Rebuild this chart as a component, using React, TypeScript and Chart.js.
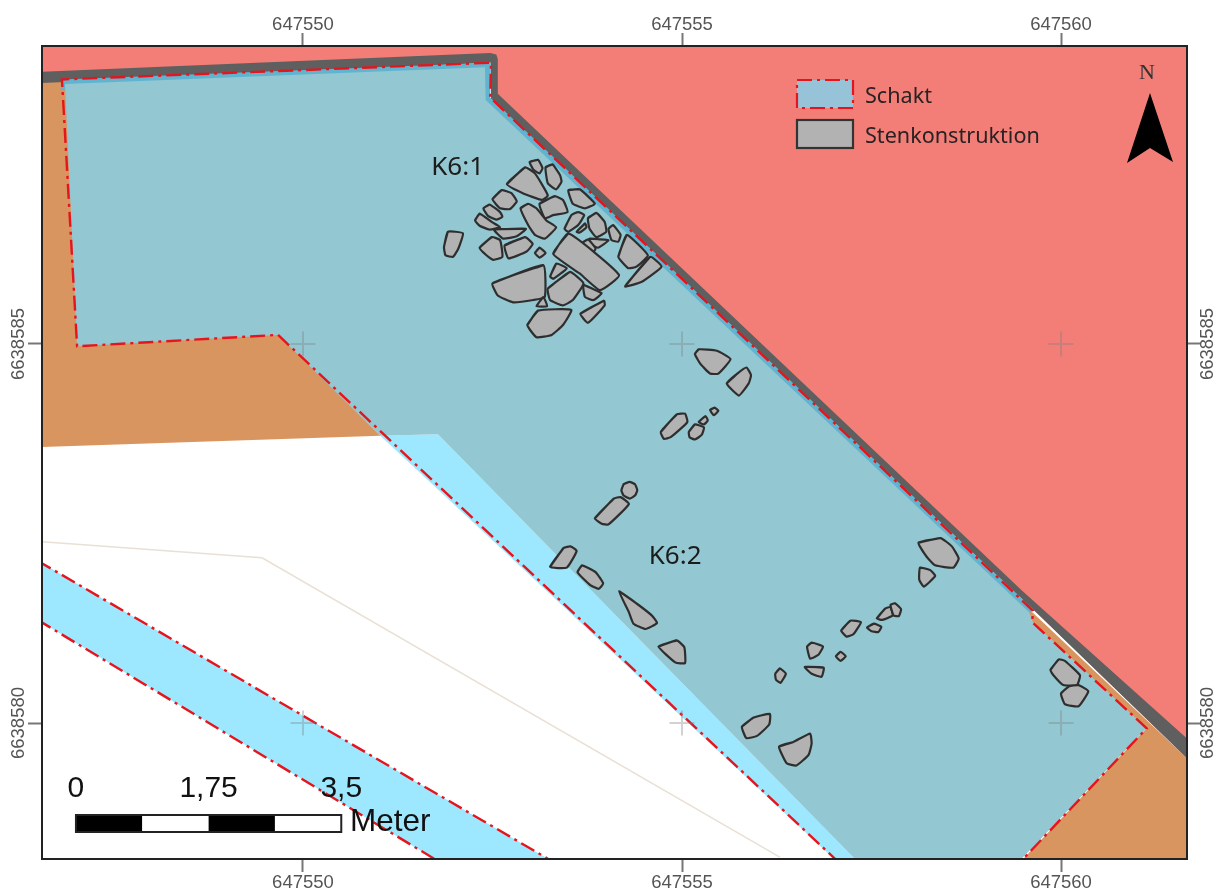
import React, { useEffect, useRef } from "react";
import { Chart, registerables } from "chart.js";

Chart.register(...registerables);

type P = [number, number];

// Map origin: every vertex below is metres east / north of it (SWEREF-style grid).
const EAST0 = 647550;
const NORTH0 = 6638580;
const xMin = EAST0 - 3.443;
const xMax = EAST0 + 11.662;
const yMin = NORTH0 - 1.794;
const yMax = NORTH0 + 8.931;

const graticuleEast = [647550, 647555, 647560];
const graticuleNorth = [6638580, 6638585];

const redZone: P[] = [[-3.5, 9], [11.7, 9], [11.7, -0.5], [9.59, 1.54], [2.53, 8.26], [2.51, 8.77], [-3.5, 8.51]];
const brownWest: P[] = [[-3.5, 8.5], [-0.3, 8.5], [-0.3, 5.12], [1.02, 3.79], [-3.5, 3.64]];
const brownEast: P[] = [[9.59, 1.49], [11.7, -0.5], [11.7, -1.9], [9.4, -1.9], [11.13, -0.07], [9.5, 1.3]];
const blueEdge: P[] = [[1.02, 3.79], [1.78, 3.81], [7.39, -1.9], [7.12, -1.9]];
const blueStrip: P[] = [[-3.5, 2.14], [3.23, -1.79], [1.73, -1.79], [-3.5, 1.36]];
const wall: P[] = [[-3.5, 8.59], [2.47, 8.84], [2.55, 8.82], [2.57, 8.76], [2.57, 8.3], [9.48, 1.75], [11.7, -0.24], [11.7, -0.5], [9.63, 1.5], [2.47, 8.22], [2.48, 8.71], [-3.5, 8.44]];
const shaftSliver: P[] = [[-3.18, 8.49], [2.48, 8.71], [2.47, 8.25], [9.63, 1.5], [9.56, 1.41], [2.33, 8.15], [-3.2, 8.35]];
const shaftFill: P[] = [[-3.14, 8.43], [2.4, 8.65], [2.41, 8.22], [9.58, 1.46], [9.63, 1.33], [11.13, -0.07], [9.48, -1.79], [7.28, -1.79], [1.78, 3.81], [1.02, 3.79], [-0.33, 5.12], [-2.98, 4.97]];
const shaftOutline: P[] = [[7.08, -1.85], [-0.33, 5.12], [-2.98, 4.97], [-3.18, 8.49], [2.48, 8.71], [2.47, 8.25], [9.63, 1.48], [9.62, 1.33], [11.13, -0.07], [9.4, -1.9]];
const stripEdgeUpper: P[] = [[-3.5, 2.14], [3.23, -1.79]];
const stripEdgeLower: P[] = [[-3.5, 1.36], [1.73, -1.79]];
const beigeLine: P[] = [[-3.44, 2.39], [-0.54, 2.18], [6.29, -1.77]];

const stonesK61: P[][] = [
  [[2.99, 7.4], [3.1, 7.43], [3.16, 7.32], [3.12, 7.25], [3.04, 7.3]],
  [[3.2, 7.33], [3.29, 7.37], [3.39, 7.23], [3.41, 7.14], [3.34, 7.04], [3.23, 7.12]],
  [[2.69, 7.11], [2.93, 7.33], [3.06, 7.25], [3.23, 6.96], [3.15, 6.9], [2.9, 6.99]],
  [[2.5, 6.91], [2.62, 7.03], [2.75, 6.99], [2.82, 6.88], [2.73, 6.78], [2.6, 6.79]],
  [[2.38, 6.79], [2.46, 6.84], [2.6, 6.74], [2.63, 6.68], [2.55, 6.64], [2.44, 6.69]],
  [[2.27, 6.63], [2.33, 6.72], [2.49, 6.61], [2.6, 6.54], [2.46, 6.51], [2.33, 6.56]],
  [[3.12, 6.85], [3.32, 6.95], [3.43, 6.9], [3.49, 6.74], [3.3, 6.7], [3.19, 6.66]],
  [[2.87, 6.79], [2.97, 6.85], [3.08, 6.79], [3.21, 6.63], [3.34, 6.54], [3.19, 6.39], [3.06, 6.44], [2.97, 6.57]],
  [[3.5, 7.03], [3.65, 7.04], [3.85, 6.85], [3.72, 6.79], [3.56, 6.85]],
  [[3.45, 6.52], [3.54, 6.7], [3.63, 6.74], [3.71, 6.7], [3.63, 6.57], [3.5, 6.48]],
  [[3.76, 6.66], [3.87, 6.73], [3.98, 6.61], [4.0, 6.48], [3.87, 6.41], [3.78, 6.52]],
  [[3.61, 6.48], [3.72, 6.59], [3.74, 6.54], [3.65, 6.47]],
  [[4.03, 6.52], [4.09, 6.57], [4.19, 6.44], [4.16, 6.35], [4.07, 6.37]],
  [[3.78, 6.39], [4.03, 6.37], [3.89, 6.27], [3.78, 6.33]],
  [[3.68, 6.33], [3.76, 6.38], [3.86, 6.26], [3.81, 6.19], [3.72, 6.25]],
  [[2.52, 6.51], [2.94, 6.52], [2.82, 6.42], [2.64, 6.39]],
  [[1.86, 6.28], [1.91, 6.48], [2.11, 6.46], [2.05, 6.26], [1.98, 6.15], [1.88, 6.17]],
  [[2.33, 6.27], [2.49, 6.41], [2.6, 6.37], [2.63, 6.15], [2.51, 6.11], [2.42, 6.17]],
  [[2.66, 6.3], [2.93, 6.41], [3.03, 6.32], [2.95, 6.22], [2.71, 6.13]],
  [[3.06, 6.2], [3.12, 6.27], [3.2, 6.2], [3.12, 6.14]],
  [[3.3, 6.19], [3.5, 6.46], [4.17, 5.91], [3.92, 5.71], [3.65, 5.93]],
  [[4.16, 6.15], [4.27, 6.44], [4.55, 6.17], [4.4, 6.02], [4.29, 6.0]],
  [[4.25, 5.76], [4.58, 6.15], [4.73, 6.02], [4.47, 5.82]],
  [[2.5, 5.8], [3.17, 6.04], [3.19, 5.62], [3.04, 5.58], [2.77, 5.55], [2.57, 5.64]],
  [[3.26, 5.89], [3.34, 6.06], [3.48, 6.0], [3.3, 5.86]],
  [[3.23, 5.73], [3.52, 5.95], [3.7, 5.8], [3.56, 5.58], [3.43, 5.51], [3.26, 5.58]],
  [[3.7, 5.78], [3.94, 5.67], [3.83, 5.58], [3.72, 5.62]],
  [[3.08, 5.5], [3.17, 5.62], [3.22, 5.5]],
  [[2.96, 5.25], [3.1, 5.44], [3.54, 5.45], [3.43, 5.25], [3.28, 5.12], [3.08, 5.09]],
  [[3.66, 5.4], [3.97, 5.57], [3.98, 5.51], [3.76, 5.28]],
];

const stonesK62: P[][] = [
  [[5.17, 4.87], [5.22, 4.93], [5.46, 4.91], [5.64, 4.8], [5.48, 4.61], [5.37, 4.61], [5.24, 4.74]],
  [[5.59, 4.48], [5.73, 4.61], [5.85, 4.69], [5.91, 4.59], [5.88, 4.48], [5.75, 4.32]],
  [[5.37, 4.13], [5.43, 4.16], [5.48, 4.12], [5.42, 4.06]],
  [[5.22, 3.97], [5.31, 4.05], [5.34, 3.99], [5.29, 3.94]],
  [[5.09, 3.84], [5.17, 3.94], [5.29, 3.9], [5.26, 3.8], [5.17, 3.74], [5.1, 3.77]],
  [[4.72, 3.84], [4.93, 4.07], [5.04, 4.08], [5.07, 3.97], [4.85, 3.77], [4.76, 3.75]],
  [[4.2, 3.07], [4.23, 3.15], [4.31, 3.18], [4.38, 3.15], [4.41, 3.07], [4.38, 3.0], [4.31, 2.96], [4.23, 3.0]],
  [[3.85, 2.7], [4.1, 2.96], [4.19, 2.98], [4.3, 2.89], [4.03, 2.62], [3.94, 2.63]],
  [[3.26, 2.06], [3.44, 2.31], [3.53, 2.33], [3.61, 2.27], [3.48, 2.05]],
  [[3.62, 1.99], [3.68, 2.08], [3.86, 1.99], [3.96, 1.84], [3.9, 1.77], [3.79, 1.82]],
  [[4.17, 1.74], [4.41, 1.57], [4.6, 1.42], [4.67, 1.32], [4.52, 1.24], [4.36, 1.31], [4.3, 1.46]],
  [[4.69, 1.01], [4.93, 1.09], [5.03, 1.0], [5.04, 0.79], [4.91, 0.8]],
  [[8.12, 2.38], [8.41, 2.44], [8.56, 2.33], [8.65, 2.17], [8.58, 2.05], [8.34, 2.08], [8.23, 2.19]],
  [[8.14, 2.05], [8.27, 2.02], [8.34, 1.94], [8.19, 1.8], [8.13, 1.89]],
  [[7.57, 1.38], [7.68, 1.51], [7.75, 1.53], [7.78, 1.42], [7.64, 1.36]],
  [[7.75, 1.56], [7.81, 1.58], [7.89, 1.5], [7.86, 1.41], [7.79, 1.42]],
  [[7.44, 1.26], [7.53, 1.31], [7.63, 1.27], [7.59, 1.2], [7.5, 1.21]],
  [[7.1, 1.22], [7.22, 1.35], [7.36, 1.33], [7.26, 1.17], [7.17, 1.14]],
  [[6.65, 1.01], [6.71, 1.06], [6.86, 1.01], [6.8, 0.9], [6.69, 0.85]],
  [[7.03, 0.88], [7.09, 0.94], [7.16, 0.88], [7.09, 0.82]],
  [[6.62, 0.74], [6.87, 0.73], [6.84, 0.61], [6.71, 0.65]],
  [[6.23, 0.65], [6.29, 0.72], [6.37, 0.65], [6.3, 0.53], [6.24, 0.57]],
  [[5.79, -0.05], [5.94, 0.07], [6.16, 0.12], [6.15, -0.02], [5.99, -0.17], [5.85, -0.2]],
  [[6.28, -0.31], [6.47, -0.25], [6.69, -0.14], [6.71, -0.27], [6.67, -0.42], [6.51, -0.56], [6.38, -0.53]],
  [[9.86, 0.7], [9.97, 0.84], [10.05, 0.82], [10.25, 0.63], [10.21, 0.5], [10.03, 0.5], [9.9, 0.63]],
  [[10.0, 0.39], [10.1, 0.48], [10.23, 0.5], [10.36, 0.42], [10.23, 0.22], [10.05, 0.25]],
];

const areaLabels: { text: string; at: P }[] = [
  { text: "K6:1", at: [2.04, 7.33] },
  { text: "K6:2", at: [4.91, 2.2] },
];
const legendLabels = ["Schakt", "Stenkonstruktion"];
const scaleStops = [0, 0.875, 1.75, 2.625, 3.5];
const scaleLabels: [number, string][] = [[0, "0"], [1.75, "1,75"], [3.5, "3,5"]];
const scaleUnit = "Meter";
const scaleBarStart = -2.995;

const RED = "#e6141c";
const DASH = [15, 5, 3, 5];
const SANS = "'Liberation Sans', Arial, sans-serif";
const LABEL = "'Noto Sans', sans-serif";

const toData = (pts: P[]) => pts.map(([x, y]) => ({ x: EAST0 + x, y: NORTH0 + y }));
const closed = (pts: P[]) => [...pts, pts[0]];
// one more vertex past the start so the spline also rounds the closing corner
const wrapped = (pts: P[]) => [...pts, pts[0], pts[1]];

const area = (pts: P[], color: string) => ({
  type: "scatter" as const,
  data: toData(closed(pts)),
  showLine: true,
  fill: "shape",
  backgroundColor: color,
  borderColor: color,
  borderWidth: 0,
  pointRadius: 0,
  tension: 0,
  clip: 0,
});

const line = (pts: P[], color: string, width: number, dash: number[] = []) => ({
  type: "scatter" as const,
  data: toData(pts),
  showLine: true,
  fill: false,
  borderColor: color,
  backgroundColor: color,
  borderWidth: width,
  borderDash: dash,
  pointRadius: 0,
  tension: 0,
  clip: 0,
});

const stone = (pts: P[]) => ({
  type: "scatter" as const,
  data: toData(wrapped(pts)),
  showLine: true,
  fill: "shape",
  backgroundColor: "#b2b2b2",
  borderColor: "#2e2e2e",
  borderWidth: 2.2,
  borderJoinStyle: "round" as const,
  pointRadius: 0,
  tension: 0.14,
});

const crossPoints = graticuleNorth.flatMap((y) => graticuleEast.map((x) => ({ x, y })));

const mapOverlay = {
  id: "mapOverlay",
  afterDatasetsDraw(chart: any) {
    const { ctx } = chart;
    const sx = chart.scales.x;
    const sy = chart.scales.y;
    ctx.save();
    ctx.textBaseline = "middle";

    // area labels
    ctx.fillStyle = "#1c1c1c";
    ctx.font = `26px ${LABEL}`;
    ctx.textAlign = "center";
    areaLabels.forEach(({ text, at }) => {
      ctx.fillText(text, sx.getPixelForValue(EAST0 + at[0]), sy.getPixelForValue(NORTH0 + at[1]));
    });

    // legend
    ctx.fillStyle = "#97c3d8";
    ctx.fillRect(797, 80, 56, 28);
    ctx.strokeStyle = RED;
    ctx.lineWidth = 2.2;
    ctx.setLineDash([15, 5, 3, 5]);
    ctx.strokeRect(797, 80, 56, 28);
    ctx.setLineDash([]);
    ctx.fillStyle = "#b2b2b2";
    ctx.fillRect(797, 120, 56, 28);
    ctx.strokeStyle = "#333";
    ctx.strokeRect(797, 120, 56, 28);
    ctx.fillStyle = "#2a2222";
    ctx.font = `21.6px ${LABEL}`;
    ctx.textAlign = "left";
    ctx.fillText(legendLabels[0], 865, 96.5);
    ctx.fillText(legendLabels[1], 865, 136.5);

    // north arrow
    ctx.fillStyle = "#333";
    ctx.font = "22px 'Liberation Serif', serif";
    ctx.textAlign = "center";
    ctx.fillText("N", 1147, 73);
    ctx.fillStyle = "#000";
    ctx.beginPath();
    ctx.moveTo(1150, 93);
    ctx.lineTo(1173, 162);
    ctx.lineTo(1150, 148);
    ctx.lineTo(1127, 163);
    ctx.closePath();
    ctx.fill();

    // scale bar
    const px = (m: number) => sx.getPixelForValue(EAST0 + scaleBarStart + m);
    const barTop = 815;
    const barH = 17;
    for (let i = 0; i < scaleStops.length - 1; i++) {
      ctx.fillStyle = i % 2 === 0 ? "#000" : "#fff";
      ctx.fillRect(px(scaleStops[i]), barTop, px(scaleStops[i + 1]) - px(scaleStops[i]), barH);
    }
    ctx.strokeStyle = "#222";
    ctx.lineWidth = 2;
    ctx.strokeRect(px(0), barTop, px(3.5) - px(0), barH);
    ctx.fillStyle = "#111";
    ctx.font = `30px ${SANS}`;
    ctx.textAlign = "center";
    scaleLabels.forEach(([m, t]) => ctx.fillText(t, px(m), 789));
    ctx.textAlign = "left";
    ctx.font = `31.5px ${SANS}`;
    ctx.fillText(scaleUnit, 350, 822);
    ctx.restore();
  },
};

const tickStyle = { color: "#555", font: { family: SANS, size: 18.5 } };

function xAxis(position: "top" | "bottom", size: number, pad: number) {
  return {
    type: "linear" as const,
    position,
    min: xMin,
    max: xMax,
    afterFit: (s: any) => { s.height = size; },
    grid: { drawOnChartArea: false, drawTicks: true, tickLength: 13, tickWidth: 2, color: "#777" },
    border: { display: true, color: "#222", width: 2, z: 3 },
    ticks: {
      ...tickStyle,
      stepSize: 5,
      includeBounds: false,
      autoSkip: false,
      maxRotation: 0,
      padding: pad,
      callback: (v: number) => String(v),
    },
  };
}

function yAxis(position: "left" | "right", size: number, pad: number) {
  return {
    type: "linear" as const,
    position,
    min: yMin,
    max: yMax,
    afterFit: (s: any) => { s.width = size; },
    grid: { drawOnChartArea: false, drawTicks: true, tickLength: 14, tickWidth: 2, color: "#777" },
    border: { display: true, color: "#222", width: 2, z: 3 },
    ticks: {
      ...tickStyle,
      stepSize: 5,
      includeBounds: false,
      autoSkip: false,
      minRotation: 90,
      maxRotation: 90,
      crossAlign: "center" as const,
      padding: pad,
      callback: (v: number) => String(v),
    },
  };
}

export default function App() {
  const ref = useRef<HTMLCanvasElement | null>(null);

  useEffect(() => {
    if (!ref.current) return;
    // listed bottom layer first; Chart.js paints the first dataset last, so reverse
    const layers: any[] = [
      area(redZone, "#f27e77"),
      area(brownWest, "#d99560"),
      area(brownEast, "#d99560"),
      area(blueEdge, "#9de8ff"),
      area(blueStrip, "#9de8ff"),
      line(beigeLine, "#e9e0d5", 1.5),
      area(wall, "#5f5f5f"),
      area(shaftSliver, "#61b4d0"),
      area(shaftFill, "#93c7d1"),
      line(shaftOutline, RED, 2.4, DASH),
      line(stripEdgeUpper, RED, 2.4, DASH),
      line(stripEdgeLower, RED, 2.4, DASH),
      {
        type: "scatter",
        data: crossPoints,
        showLine: false,
        pointStyle: "cross",
        pointRadius: 12.5,
        pointBorderWidth: 2,
        pointBorderColor: "rgba(125,125,125,0.35)",
        clip: 0,
      },
      ...stonesK61.map(stone),
      ...stonesK62.map(stone),
    ];
    const chart = new Chart(ref.current, {
      type: "scatter",
      data: { datasets: layers.reverse() },
      plugins: [mapOverlay],
      options: {
        responsive: false,
        animation: false,
        events: [],
        layout: { padding: 0 },
        plugins: { legend: { display: false }, tooltip: { enabled: false }, title: { display: false } },
        scales: {
          x: xAxis("bottom", 31, 0),
          xTop: xAxis("top", 46, -3),
          y: yAxis("left", 42, -26.5),
          yRight: yAxis("right", 30, -29),
        },
      },
    } as any);
    return () => chart.destroy();
  }, []);

  return (
    <div style={{ position: "absolute", left: 0, top: 0, width: 1217, height: 890, background: "#fff" }}>
      <canvas ref={ref} width={1217} height={890} style={{ display: "block", filter: "blur(0.6px)" }} />
    </div>
  );
}
